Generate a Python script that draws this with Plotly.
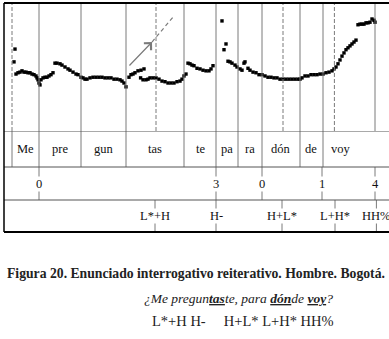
import plotly.graph_objects as go

# ---- pitch track (time in s, f0 in Hz) ----
time_s = [0.050, 0.055,
          0.060, 0.070, 0.080, 0.090, 0.100, 0.110, 0.120, 0.130, 0.140, 0.150, 0.160, 0.165,
          0.170, 0.175, 0.180, 0.185, 0.195, 0.205, 0.215, 0.225, 0.235, 0.245,
          0.255, 0.265, 0.280, 0.290, 0.305, 0.320, 0.330, 0.345, 0.360, 0.370, 0.385, 0.395,
          0.405, 0.415, 0.430, 0.445, 0.460, 0.475, 0.490, 0.505, 0.520, 0.535, 0.550, 0.565,
          0.580, 0.590, 0.600, 0.610,
          0.625, 0.635, 0.645, 0.655, 0.670, 0.685, 0.700, 0.683, 0.695,
          0.710, 0.720, 0.730, 0.745, 0.760, 0.775, 0.790, 0.805, 0.820, 0.835, 0.850, 0.865,
          0.880, 0.890, 0.900, 0.910,
          0.920, 0.930, 0.940, 0.950, 0.965, 0.980, 0.995, 1.010, 1.025, 1.035, 1.045,
          1.090, 1.100, 1.110,
          1.120, 1.130, 1.140, 1.155, 1.165, 1.180, 1.190, 1.200, 1.205,
          1.220, 1.230, 1.245, 1.260, 1.275, 1.290, 1.305, 1.320, 1.335, 1.350, 1.365, 1.380,
          1.395, 1.410, 1.425, 1.440, 1.455, 1.470, 1.480, 1.490, 1.505, 1.520, 1.535, 1.550,
          1.565, 1.580, 1.595, 1.610, 1.625, 1.640, 1.650, 1.660, 1.670, 1.680, 1.690, 1.700,
          1.710, 1.720, 1.730, 1.740, 1.750, 1.760,
          1.770, 1.780, 1.790, 1.800, 1.810, 1.820, 1.830, 1.840, 1.850, 1.855]
f0_hz = [158, 178,
         139, 141, 142, 144, 142, 142, 141, 141, 139, 138, 136, 133,
         130, 125, 122, 130, 133, 134, 134, 136, 138, 141,
         156, 156, 155, 153, 150, 147, 145, 142, 139, 138, 134, 133,
         131, 131, 133, 134, 134, 134, 134, 133, 133, 133, 131, 131,
         130, 128, 125, 119,
         134, 138, 139, 141, 144, 145, 147, 133, 130,
         130, 131, 133, 133, 133, 131, 128, 127, 125, 125, 125, 127,
         128, 131, 136, 139,
         156, 155, 153, 152, 148, 147, 145, 144, 144, 147, 152,
         222, 177, 186,
         159, 158, 156, 153, 150, 147, 145, 156, 158,
         148, 145, 142, 141, 138, 138, 136, 134, 134, 133, 133, 131,
         131, 131, 131, 131, 131, 131, 131, 133, 136, 136, 138, 138,
         138, 139, 139, 141, 142, 144, 147, 150, 155, 161, 167, 172,
         177, 180, 183, 186, 189, 192,
         216, 217, 217, 217, 219, 219, 220, 225, 223, 220]

# ---- TextGrid tiers ----
syll_bounds = [0.040, 0.175, 0.385, 0.610, 0.900, 1.060, 1.170, 1.290, 1.480, 1.595]
syll_labels = ["Me", "pre", "gun", "tas", "te", "pa", "ra", "dón", "de", "voy"]
syll_label_t = [0.107, 0.280, 0.498, 0.755, 0.980, 1.115, 1.230, 1.385, 1.535, 1.685]

break_t = [0.175, 1.060, 1.290, 1.590, 1.855]
break_labels = ["0", "3", "0", "1", "4"]

tone_t = [0.755, 1.060, 1.390, 1.655, 1.862]
tone_labels = ["L*+H", "H-", "H+L*", "L+H*", "HH%"]

# lines drawn across the pitch area
pitch_lines_t = [0.040, 0.175, 0.385, 0.610, 0.760, 0.900, 1.060, 1.170, 1.290,
                 1.395, 1.480, 1.595, 1.652, 1.855]
pitch_lines_dashed = [True, False, False, False, True, False, False, False, False,
                      True, False, False, True, False]

# arrow (time, Hz)
arrow_t = [0.620, 0.740, 0.845]
arrow_hz = [150, 189, 228]

caption = "Figura 20. Enunciado interrogativo reiterativo. Hombre. Bogotá."
sentence = ("<i>¿Me pregun<u><b>tas</b></u>te, para <u><b>dón</b></u>de "
            "<u><b>voy</b></u>?</i>")
tone_line = "L*+H H-\u00a0\u00a0\u00a0\u00a0 H+L* L+H* HH%"

# tier heights in y2 units (bottom tone tier, break tier, syllable tier)
tier_edges = [0, 32, 65, 101]

W, H = 389, 339
ML, MT, MB = 4, 3, 107
plot_h = H - MT - MB
split = tier_edges[-1] / plot_h

GREY = "#7a7a7a"
FONT = "Liberation Serif"

fig = go.Figure()
fig.add_trace(go.Scatter(x=time_s, y=f0_hz, mode="markers",
                         marker=dict(symbol="square", size=3.4, color="black",
                                     line=dict(width=0)),
                         hoverinfo="skip", showlegend=False))

shapes = []
for t, d in zip(pitch_lines_t, pitch_lines_dashed):
    shapes.append(dict(type="line", xref="x", yref="y", x0=t, x1=t, y0=50, y1=250,
                       line=dict(color=GREY, width=1, dash="4px,2px" if d else "solid")))
for t in syll_bounds:
    shapes.append(dict(type="line", xref="x", yref="y2", x0=t, x1=t,
                       y0=tier_edges[2], y1=tier_edges[3],
                       line=dict(color=GREY, width=1)))
for t in break_t:
    shapes.append(dict(type="line", xref="x", yref="y2", x0=t, x1=t,
                       y0=tier_edges[1], y1=tier_edges[2],
                       line=dict(color=GREY, width=1)))
for t in tone_t:
    shapes.append(dict(type="line", xref="x", yref="y2", x0=t, x1=t,
                       y0=tier_edges[0], y1=tier_edges[1],
                       line=dict(color=GREY, width=1)))
for e in tier_edges[1:]:
    shapes.append(dict(type="line", xref="paper", yref="y2", x0=0, x1=1, y0=e, y1=e,
                       line=dict(color="#555555", width=1)))
shapes.append(dict(type="line", xref="paper", yref="paper", x0=0, x1=1, y0=1, y1=1,
                   line=dict(color="black", width=2)))
shapes.append(dict(type="line", xref="paper", yref="paper", x0=0, x1=0, y0=0, y1=1,
                   line=dict(color="black", width=1.5)))
shapes.append(dict(type="line", xref="paper", yref="paper", x0=0, x1=1, y0=0, y1=0,
                   line=dict(color="black", width=2)))
shapes.append(dict(type="line", xref="x", yref="y", x0=arrow_t[1], x1=arrow_t[2],
                   y0=arrow_hz[1], y1=arrow_hz[2],
                   line=dict(color=GREY, width=1.2, dash="4px,3px")))

ann = []
tier_font = dict(family=FONT, size=12.5, color="#111")
for t, lab in zip(syll_label_t, syll_labels):
    ann.append(dict(x=t, y=(tier_edges[2] + tier_edges[3]) / 2, xref="x", yref="y2",
                    text=lab, showarrow=False, font=tier_font))
for t, lab in zip(break_t, break_labels):
    ann.append(dict(x=t, y=(tier_edges[1] + tier_edges[2]) / 2, xref="x", yref="y2",
                    text=lab, showarrow=False, font=tier_font, bgcolor="white",
                    borderpad=0))
for t, lab in zip(tone_t, tone_labels):
    ann.append(dict(x=t, y=(tier_edges[0] + tier_edges[1]) / 2, xref="x", yref="y2",
                    text=lab, showarrow=False, font=tier_font, bgcolor="white",
                    borderpad=0))
ann.append(dict(x=arrow_t[1], y=arrow_hz[1], ax=arrow_t[0], ay=arrow_hz[0],
                xref="x", yref="y", axref="x", ayref="y", text="", showarrow=True,
                arrowhead=4, arrowsize=1.6, arrowwidth=1.2, arrowcolor=GREY))
ann.append(dict(x=arrow_t[2], y=arrow_hz[2], ax=arrow_t[2] - 0.012, ay=arrow_hz[2] - 4,
                xref="x", yref="y", axref="x", ayref="y", text="", showarrow=True,
                arrowhead=4, arrowsize=1.6, arrowwidth=1.2, arrowcolor=GREY))


def py_to_paper(py):
    return (H - MB - py) / plot_h


def px_to_paper(px):
    return (px - ML) / (W - ML)


ann.append(dict(x=px_to_paper(196), y=py_to_paper(273), xref="paper", yref="paper",
                xanchor="center", yanchor="middle",
                text="<b>" + caption + "</b>", showarrow=False,
                font=dict(family=FONT, size=13.7, color="#222")))
ann.append(dict(x=px_to_paper(238), y=py_to_paper(298), xref="paper", yref="paper",
                xanchor="center", yanchor="middle",
                text=sentence, showarrow=False,
                font=dict(family=FONT, size=13.5, color="#222")))
ann.append(dict(x=px_to_paper(243), y=py_to_paper(321), xref="paper", yref="paper",
                xanchor="center", yanchor="middle",
                text=tone_line, showarrow=False,
                font=dict(family=FONT, size=14.5, color="#222")))

fig.update_layout(
    width=W, height=H,
    margin=dict(l=ML, r=0, t=MT, b=MB, pad=0),
    paper_bgcolor="white", plot_bgcolor="white",
    xaxis=dict(range=[0, 1.925], visible=False, fixedrange=True),
    yaxis=dict(domain=[split, 1], range=[50, 250], visible=False),
    yaxis2=dict(domain=[0, split], range=[0, tier_edges[-1]], visible=False, anchor="x"),
    shapes=shapes, annotations=ann, showlegend=False,
)
fig.write_html("out.html", config={"displayModeBar": False},
               post_script="document.body.style.margin='0';document.body.style.overflow='hidden';")
